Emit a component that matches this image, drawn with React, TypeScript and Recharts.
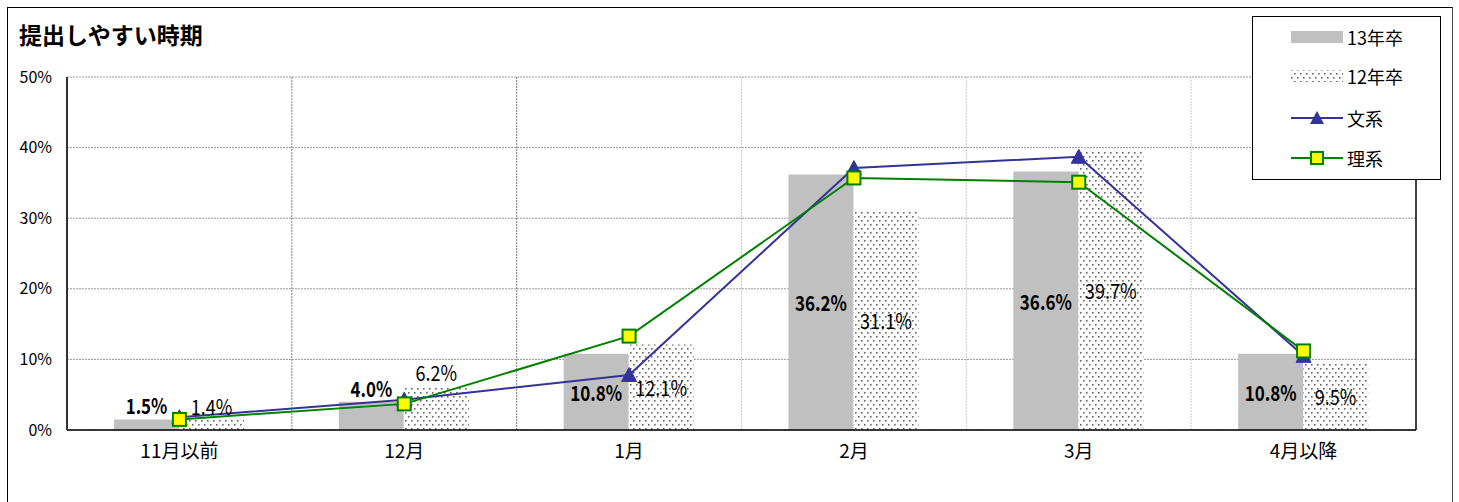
import React from "react";
import {
  ComposedChart,
  Bar,
  Line,
  XAxis,
  YAxis,
  CartesianGrid,
  Legend,
  LabelList,
} from "recharts";

const categories = ["11月以前", "12月", "1月", "2月", "3月", "4月以降"];
const grad13 = [1.5, 4.0, 10.8, 36.2, 36.6, 10.8];
const grad12 = [1.4, 6.2, 12.1, 31.1, 39.7, 9.5];
const bunkei = [1.8, 4.3, 7.8, 37.1, 38.7, 10.5];
const rikei = [1.5, 3.7, 13.3, 35.7, 35.1, 11.2];
const yTicks = [0, 10, 20, 30, 40, 50];

const data = categories.map((name, i) => ({
  name,
  g13: grad13[i],
  g12: grad12[i],
  bun: bunkei[i],
  ri: rikei[i],
}));

const font = "'Noto Sans CJK JP', 'Noto Sans', sans-serif";
const blue = "#333399";
const green = "#008000";
const yellow = "#ffff00";
const gray = "#c0c0c0";
const dotColor = "#666";

const W = 1459;
const H = 502;

const boundaries = (idx: number[]) => (props: any) => {
  const { offset } = props;
  return idx.map((i) => offset.left + (i * offset.width) / categories.length);
};

// narrow digits like the original, squeezed with textLength
const barLabel = (bold: boolean) => (props: any) => {
  const { x, y, width, height, value } = props;
  const cx = Number(x) + Number(width) / 2;
  const small = Number(height) < 50;
  const cy = small ? Number(y) - 14 : Number(y) + Number(height) / 2;
  const txt = `${Number(value).toFixed(1)}%`;
  return (
    <text
      x={cx}
      y={cy}
      textAnchor="middle"
      dominantBaseline="central"
      fontFamily={font}
      fontSize={21}
      fontWeight={bold ? 700 : 400}
      fill="#000"
      textLength={txt.length * 10.4}
      lengthAdjust="spacingAndGlyphs"
    >
      {txt}
    </text>
  );
};

const Triangle = (props: any) => {
  const { cx, cy } = props;
  if (cx == null || cy == null) return null;
  return (
    <polygon
      points={`${cx},${cy - 7.5} ${cx - 7.5},${cy + 6.5} ${cx + 7.5},${cy + 6.5}`}
      fill={blue}
      stroke={blue}
      strokeWidth={1}
    />
  );
};

const Square = (props: any) => {
  const { cx, cy } = props;
  if (cx == null || cy == null) return null;
  return (
    <rect x={cx - 6.5} y={cy - 6.5} width={13} height={13} fill={yellow} stroke={green} strokeWidth={2} />
  );
};

const dotPattern = (id: string) => (
  <pattern id={id} width={6} height={8} patternUnits="userSpaceOnUse">
    <rect width={6} height={8} fill="#fff" />
    <rect x={0} y={0} width={1.6} height={1.6} fill={dotColor} />
    <rect x={3} y={4} width={1.6} height={1.6} fill={dotColor} />
  </pattern>
);

const legendIcon = (key: string) => {
  if (key === "g13") return <rect x={0} y={1} width={52} height={12} fill={gray} />;
  if (key === "g12") return <rect x={0} y={1} width={52} height={12} fill="url(#dotsLegend)" />;
  if (key === "bun")
    return (
      <g>
        <line x1={0} y1={7} x2={52} y2={7} stroke={blue} strokeWidth={2} />
        <polygon points="26,0 19,13 33,13" fill={blue} />
      </g>
    );
  return (
    <g>
      <line x1={0} y1={7} x2={52} y2={7} stroke={green} strokeWidth={2} />
      <rect x={20} y={1} width={12} height={12} fill={yellow} stroke={green} strokeWidth={2} />
    </g>
  );
};

const LegendBox = (props: any) => {
  const order = ["g13", "g12", "bun", "ri"];
  const items = [...(props.payload || [])].sort(
    (a: any, b: any) => order.indexOf(a.dataKey) - order.indexOf(b.dataKey)
  );
  const rowY = [20, 59, 101, 141];
  return (
    <div
      style={{
        position: "relative",
        width: 189,
        height: 164,
        border: "1px solid #000",
        background: "#fff",
        boxSizing: "border-box",
      }}
    >
      <svg width={0} height={0} style={{ position: "absolute" }}>
        <defs>{dotPattern("dotsLegend")}</defs>
      </svg>
      {items.map((it: any, i: number) => (
        <div
          key={it.dataKey}
          style={{
            position: "absolute",
            left: 38,
            top: rowY[i] - 9,
            height: 18,
            display: "flex",
            alignItems: "center",
          }}
        >
          <svg width={52} height={14} style={{ display: "block" }}>
            {legendIcon(it.dataKey)}
          </svg>
          <span style={{ marginLeft: 4, fontFamily: font, fontSize: 18, color: "#000", lineHeight: "18px" }}>
            {it.value}
          </span>
        </div>
      ))}
    </div>
  );
};

export default function App() {
  return (
    <div style={{ position: "absolute", left: 0, top: 0, width: W, height: H, background: "#fff", overflow: "hidden" }}>
      <div
        style={{
          position: "absolute",
          left: 7,
          top: 7,
          width: 1446,
          height: 510,
          border: "1px solid #000",
          borderRightColor: "#444",
          boxSizing: "border-box",
        }}
      />
      <div
        style={{
          position: "absolute",
          left: 19,
          top: 19,
          fontFamily: font,
          fontSize: 23,
          fontWeight: 700,
          lineHeight: "30px",
          color: "#000",
        }}
      >
        提出しやすい時期
      </div>
      <div style={{ position: "absolute", left: 0, top: 0 }}>
        <ComposedChart
          width={W}
          height={H}
          data={data}
          margin={{ top: 77, right: 43, left: 7, bottom: 42 }}
          barGap={0}
        >
          <defs>{dotPattern("dots")}</defs>
          <CartesianGrid vertical={false} stroke="#999" strokeDasharray="2 1" />
          <CartesianGrid
            horizontal={false}
            stroke="#808080"
            strokeDasharray="2 1"
            verticalCoordinatesGenerator={boundaries([1, 2])}
          />
          <CartesianGrid
            horizontal={false}
            stroke="#cccccc"
            strokeDasharray="2 1"
            verticalCoordinatesGenerator={boundaries([3, 4, 5])}
          />
          <CartesianGrid
            horizontal={false}
            stroke="#000"
            strokeWidth={1.5}
            verticalCoordinatesGenerator={boundaries([6])}
          />
          <XAxis
            dataKey="name"
            height={30}
            tickLine={false}
            tickSize={0}
            tickMargin={15}
            axisLine={{ stroke: "#000", strokeWidth: 1.5 }}
            tick={{ fontFamily: font, fontSize: 19, fill: "#000" }}
          />
          <YAxis
            width={60}
            domain={[0, 50]}
            ticks={yTicks}
            tickFormatter={(v) => `${v}%`}
            tickLine={false}
            tickSize={0}
            tickMargin={15}
            axisLine={{ stroke: "#333", strokeWidth: 2 }}
            tick={{ fontFamily: font, fontSize: 16, fill: "#000" }}
          />
          <Legend
            layout="vertical"
            align="center"
            verticalAlign="middle"
            wrapperStyle={{ left: 1252, top: 16, width: 189, height: 164 }}
            content={LegendBox}
          />
          <Bar dataKey="g13" name="13年卒" fill={gray} barSize={65} isAnimationActive={false}>
            <LabelList dataKey="g13" content={barLabel(true)} />
          </Bar>
          <Bar dataKey="g12" name="12年卒" fill="url(#dots)" barSize={65} isAnimationActive={false}>
            <LabelList dataKey="g12" content={barLabel(false)} />
          </Bar>
          <Line
            dataKey="bun"
            name="文系"
            stroke={blue}
            strokeWidth={2}
            dot={<Triangle />}
            activeDot={false}
            isAnimationActive={false}
          />
          <Line
            dataKey="ri"
            name="理系"
            stroke={green}
            strokeWidth={2}
            dot={<Square />}
            activeDot={false}
            isAnimationActive={false}
          />
        </ComposedChart>
      </div>
    </div>
  );
}
